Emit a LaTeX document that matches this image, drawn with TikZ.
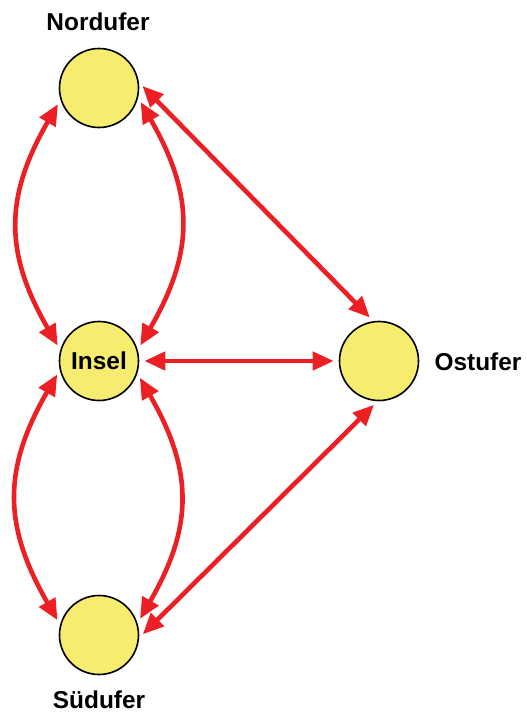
\documentclass[tikz,border=0pt]{standalone}
\usepackage{fontspec}
\setmainfont{Liberation Sans}
\usetikzlibrary{arrows.meta}

\definecolor{bankfill}{RGB}{246,236,112}
\definecolor{bridgered}{RGB}{236,32,36}

\begin{document}
\begin{tikzpicture}[x=0.5pt,y=0.5pt,
  bank/.style={circle, draw=black, line width=0.8pt, fill=bankfill,
    minimum size=39.5pt, inner sep=0pt, font=\fontsize{12.2}{14}\selectfont\bfseries},
  lab/.style={font=\fontsize{12.2}{14}\selectfont\bfseries},
  bridge/.style={draw=bridgered, line width=2.3pt,
    {Triangle[length=10.5pt,width=9pt]}-{Triangle[length=10.5pt,width=9pt]},
    shorten >=2.5pt, shorten <=2.5pt}]

% Fix the page size
\useasboundingbox (0,0) rectangle (526,-713);

% Land masses
\node[bank] (N) at (99,-88) {};
\node[bank] (I) at (99,-361) {Insel};
\node[bank] (S) at (99,-635) {};
\node[bank] (O) at (379,-361) {};

% Labels
\node[lab] (tN) at (98,-22) {Nordufer};
\node[lab] (tS) at (99,-700) {Südufer};
\node[lab] (tO) at (478,-362) {Ostufer};

% Bridges between Nordufer and Insel
\draw[bridge] (N.197) to[out=240, in=120, looseness=1.15] (I.164);
\draw[bridge] (N.346) to[out=300, in=60, looseness=1.15] (I.16);

% Bridges between Insel and Suedufer
\draw[bridge] (I.193) to[out=240, in=120, looseness=1.15] (S.165);
\draw[bridge] (I.342) to[out=300, in=60, looseness=1.15] (S.17);

% Bridges to Ostufer
\draw[bridge] (N.8) -- (O.98);
\draw[bridge] (I) -- (O);
\draw[bridge] (S.356) -- (O.268);

\end{tikzpicture}
\end{document}
